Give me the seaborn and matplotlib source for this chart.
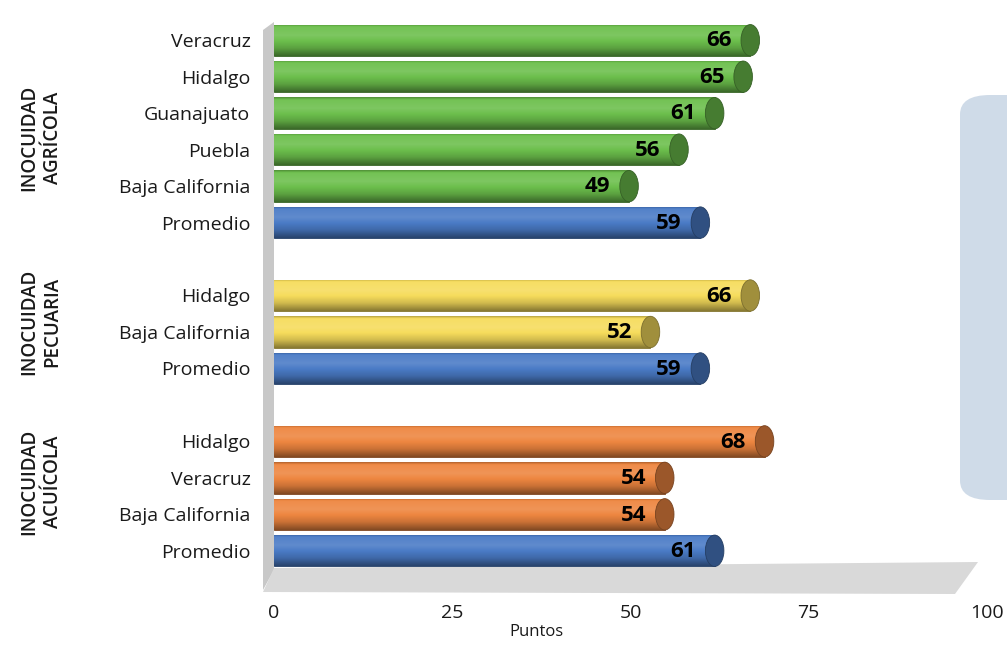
import numpy as np
import pandas as pd
import matplotlib
matplotlib.use("Agg")
import matplotlib.pyplot as plt
import matplotlib.colors as mcolors
from matplotlib.patches import Ellipse, Polygon, FancyBboxPatch
import seaborn as sns

# datos
grupos = ["INOCUIDAD\nAGRÍCOLA", "INOCUIDAD\nPECUARIA", "INOCUIDAD\nACUÍCOLA"]
agricola_estados = ["Veracruz", "Hidalgo", "Guanajuato", "Puebla", "Baja California", "Promedio"]
agricola_valores = [66, 65, 61, 56, 49, 59]
pecuaria_estados = ["Hidalgo", "Baja California", "Promedio"]
pecuaria_valores = [66, 52, 59]
acuicola_estados = ["Hidalgo", "Veracruz", "Baja California", "Promedio"]
acuicola_valores = [68, 54, 54, 61]
x_ticks = [0, 25, 50, 75, 100]

colores = {"agricola": "#6cbf4c", "pecuaria": "#f6dc5c", "acuicola": "#ee8640", "promedio": "#4a7bc6"}

filas = []
orden = []
for clave, estados, valores in [("agricola", agricola_estados, agricola_valores),
                                ("pecuaria", pecuaria_estados, pecuaria_valores),
                                ("acuicola", acuicola_estados, acuicola_valores)]:
    for i, (e, v) in enumerate(zip(estados, valores)):
        k = f"{clave}_{i}"
        tipo = "promedio" if e == "Promedio" else clave
        filas.append({"key": k, "estado": e, "valor": v, "tipo": tipo})
        orden.append(k)
    if clave != "acuicola":
        orden.append(f"{clave}_gap")
df = pd.DataFrame(filas)

sns.set_theme(style="white")
plt.rcParams["font.family"] = ["Open Sans", "DejaVu Sans"]

fig = plt.figure(figsize=(10.07, 6.46), dpi=100)
ax = fig.add_axes([274 / 1007, 1 - 569 / 646, 713 / 1007, (569 - 22) / 646])

sns.barplot(data=df, y="key", x="valor", hue="tipo", order=orden, palette=colores,
            dodge=False, width=0.86, legend=False, ax=ax, saturation=1)

# sombreado cilíndrico
def shade(c, f):
    r = np.array(mcolors.to_rgb(c))
    if f >= 0:
        return r + (1 - r) * f
    return r * (1 + f)

t = np.linspace(0, 1, 64)
prof = np.interp(t, [0, 0.08, 0.35, 0.75, 1], [-0.25, 0.05, 0.12, -0.15, -0.45])
for p in list(ax.patches):
    w = p.get_width()
    if not np.isfinite(w) or w <= 0:
        continue
    c = p.get_facecolor()
    x0, y0, h = p.get_x(), p.get_y(), p.get_height()
    # el cilindro se alarga un poco hacia la tapa
    p.set_width(w + 0.8)
    grad = np.array([shade(c[:3], f) for f in prof])[:, None, :]
    im = ax.imshow(grad, extent=[x0, x0 + w + 0.8, y0 + h, y0], aspect="auto",
                   origin="upper", zorder=2, interpolation="bilinear")
    im.set_clip_path(p)
    p.set_edgecolor(shade(c[:3], -0.5))
    p.set_linewidth(0.6)
    ax.add_patch(Ellipse((x0 + w + 0.8, y0 + h / 2), 2.6, h, facecolor=shade(c[:3], -0.35),
                         edgecolor=shade(c[:3], -0.5), lw=0.6, zorder=3))

# etiquetas de valor
ypos = {k: i for i, k in enumerate(orden)}
for _, r in df.iterrows():
    ax.text(r["valor"] - 1.8, ypos[r["key"]] + 0.02, f"{r['valor']}", ha="right", va="center",
            fontsize=16, fontweight="bold", color="black", zorder=4)

ax.set_xlim(0, 100)
ax.set_ylim(len(orden) - 0.5, -0.5)
ax.set_xticks(x_ticks)
ax.set_xticklabels([str(v) for v in x_ticks], fontsize=14, color="#1a1a1a")
ax.tick_params(axis="x", pad=25, length=0)
ax.tick_params(axis="y", pad=17, length=0)
etiquetas = []
for k in orden:
    m = df[df["key"] == k]
    etiquetas.append(m["estado"].iloc[0] if len(m) else "")
ax.set_yticks(range(len(orden)))
ax.set_yticklabels(etiquetas, fontsize=14, color="#1a1a1a", fontweight="medium")
ax.set_xlabel("Puntos", fontsize=12, color="#1a1a1a")
ax.xaxis.set_label_coords((536 - 274) / 713, -(632 - 569) / 547, transform=ax.transAxes)
ax.xaxis.label.set_va("center")
ax.set_ylabel("")
for s in ax.spines.values():
    s.set_visible(False)
ax.patch.set_alpha(0)

# pared y piso grises
fig.patches.append(Polygon([[263 / 1007, 1 - 30 / 646], [274 / 1007, 1 - 22 / 646],
                            [274 / 1007, 1 - 570 / 646], [263 / 1007, 1 - 590 / 646]],
                           closed=True, transform=fig.transFigure, facecolor="#c8c8c8",
                           edgecolor="none", zorder=-1))
fig.patches.append(Polygon([[263 / 1007, 1 - 592 / 646], [274 / 1007, 1 - 568 / 646],
                            [978 / 1007, 1 - 562 / 646], [955 / 1007, 1 - 594 / 646]],
                           closed=True, transform=fig.transFigure, facecolor="#d9d9d9",
                           edgecolor="none", zorder=-1))

# caja azul a la derecha
fig.patches.append(FancyBboxPatch((960 / 1007, 1 - 500 / 646), 80 / 1007, 405 / 646,
                                  boxstyle="round,pad=0,rounding_size=0.03",
                                  transform=fig.transFigure, facecolor="#cfdbe8",
                                  edgecolor="none", zorder=5))

# etiquetas de grupo
grupo_centros = [138, 322, 482]
for g, yc in zip(grupos, grupo_centros):
    fig.text(41 / 1007, 1 - yc / 646, g, rotation=90, ha="center", va="center",
             fontsize=13.5, fontweight="semibold", color="#1a1a1a",
             multialignment="center", linespacing=1.2)

fig.savefig("out.png", dpi=100)
